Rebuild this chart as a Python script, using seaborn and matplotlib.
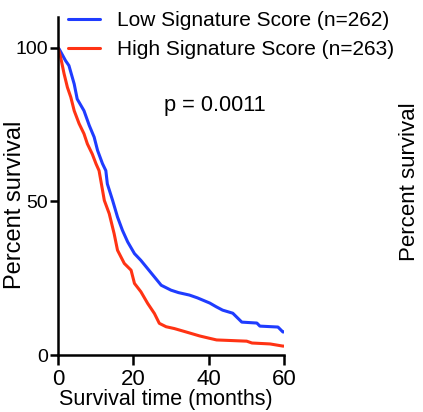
import pandas as pd
import matplotlib
matplotlib.use('Agg')
import matplotlib.pyplot as plt
import seaborn as sns

# Kaplan-Meier curves (months, percent survival)
low_time = [0, 0.3, 2.0, 2.9, 4.3, 5.1, 6.9, 8.3, 9.6, 10.5, 11.8, 12.7, 13.1, 14.5,
            15.8, 17.1, 18.5, 20.3, 22.0, 23.8, 25.6, 27.4, 30.0, 32.0, 34.9, 37.0,
            40.3, 42.0, 43.7, 46.4, 48.8, 52.8, 53.6, 58.4, 59.7, 60]
low_surv = [100, 99.6, 95.8, 94.2, 88.2, 83.3, 79.5, 74.7, 70.9, 66.6, 62.3, 60.0, 55.7, 50.3,
            44.9, 40.6, 36.8, 33.0, 30.8, 28.1, 25.4, 22.7, 21.1, 20.3, 19.5, 18.6,
            16.9, 15.7, 14.6, 13.6, 10.7, 10.4, 9.4, 9.1, 7.5, 7.5]

high_time = [0, 0.7, 1.6, 2.5, 3.4, 4.3, 5.6, 6.9, 7.8, 9.1, 10.1, 10.9, 12.3, 13.6,
             14.9, 15.8, 17.6, 19.4, 20.3, 22.0, 23.8, 25.6, 26.9, 28.7, 30.9, 34.0,
             37.6, 40.0, 42.1, 50.1, 51.5, 56.3, 59.7, 60]
high_surv = [100, 96.9, 91.6, 87.1, 83.9, 79.5, 75.3, 72.0, 68.7, 65.4, 62.2, 60.0, 50.3, 46.0,
             39.5, 34.1, 29.8, 27.6, 23.3, 20.6, 16.8, 13.5, 10.3, 9.2, 8.6, 7.5,
             6.2, 5.5, 4.9, 4.5, 3.9, 3.6, 2.9, 2.9]

labels = ['Low Signature Score (n=262)', 'High Signature Score (n=263)']
colors = ['#1f3cff', '#ff3314']
x_ticks = [0, 20, 40, 60]
y_ticks = [0, 50, 100]

low = pd.DataFrame({'time': low_time, 'surv': low_surv})
high = pd.DataFrame({'time': high_time, 'surv': high_surv})

sns.set_style('ticks')
plt.rcParams['font.family'] = ['Liberation Sans', 'DejaVu Sans']
plt.rcParams['text.color'] = 'black'
plt.rcParams['xtick.labelcolor'] = 'black'
plt.rcParams['ytick.labelcolor'] = 'black'

fig = plt.figure(figsize=(4.23, 4.12), dpi=100)
ax = fig.add_axes([58 / 423, 57 / 412, 226 / 423, 338 / 412])

sns.lineplot(data=low, x='time', y='surv', ax=ax, color=colors[0], lw=2.2,
             sort=False, estimator=None, label=labels[0])
sns.lineplot(data=high, x='time', y='surv', ax=ax, color=colors[1], lw=2.2,
             sort=False, estimator=None, label=labels[1])

ax.set_xlim(0, 60)
ax.set_ylim(0, 110)
ax.set_xticks(x_ticks)
ax.set_yticks(y_ticks)
ax.set_xlabel('')
ax.set_ylabel('')
sns.despine(ax=ax)
for s in ['left', 'bottom']:
    ax.spines[s].set_linewidth(1.8)
    ax.spines[s].set_color('black')
ax.tick_params(axis='x', length=7, width=1.8, pad=3, labelsize=16,
               color='black', labelcolor='black')
ax.tick_params(axis='y', length=6, width=1.8, pad=1, labelsize=14,
               color='black', labelcolor='black')

leg = ax.legend(loc='upper left', bbox_to_anchor=(68 / 423, 1 - 11 / 412),
                bbox_transform=fig.transFigure, frameon=False, fontsize=15,
                handlelength=1.55, handletextpad=0.8, labelspacing=0.48,
                borderpad=0, borderaxespad=0)
for t in leg.get_texts():
    t.set_color('black')

fig.text(0.508, 0.743, 'p = 0.0011', ha='center', va='center', fontsize=15.7, color='black')
fig.text(15 / 423, 1 - 205 / 412, 'Percent survival', rotation=90,
         ha='center', va='center', fontsize=17, color='black')
fig.text(165.5 / 423, 1 - 399 / 412, 'Survival time (months)',
         ha='center', va='center', fontsize=15.5, color='black')
# label of the neighbouring panel, cut by the crop
fig.text(409 / 423, 1 - 181.5 / 412, 'Percent survival', rotation=90,
         ha='center', va='center', fontsize=16, color='black')

fig.savefig('out.png', dpi=100)
